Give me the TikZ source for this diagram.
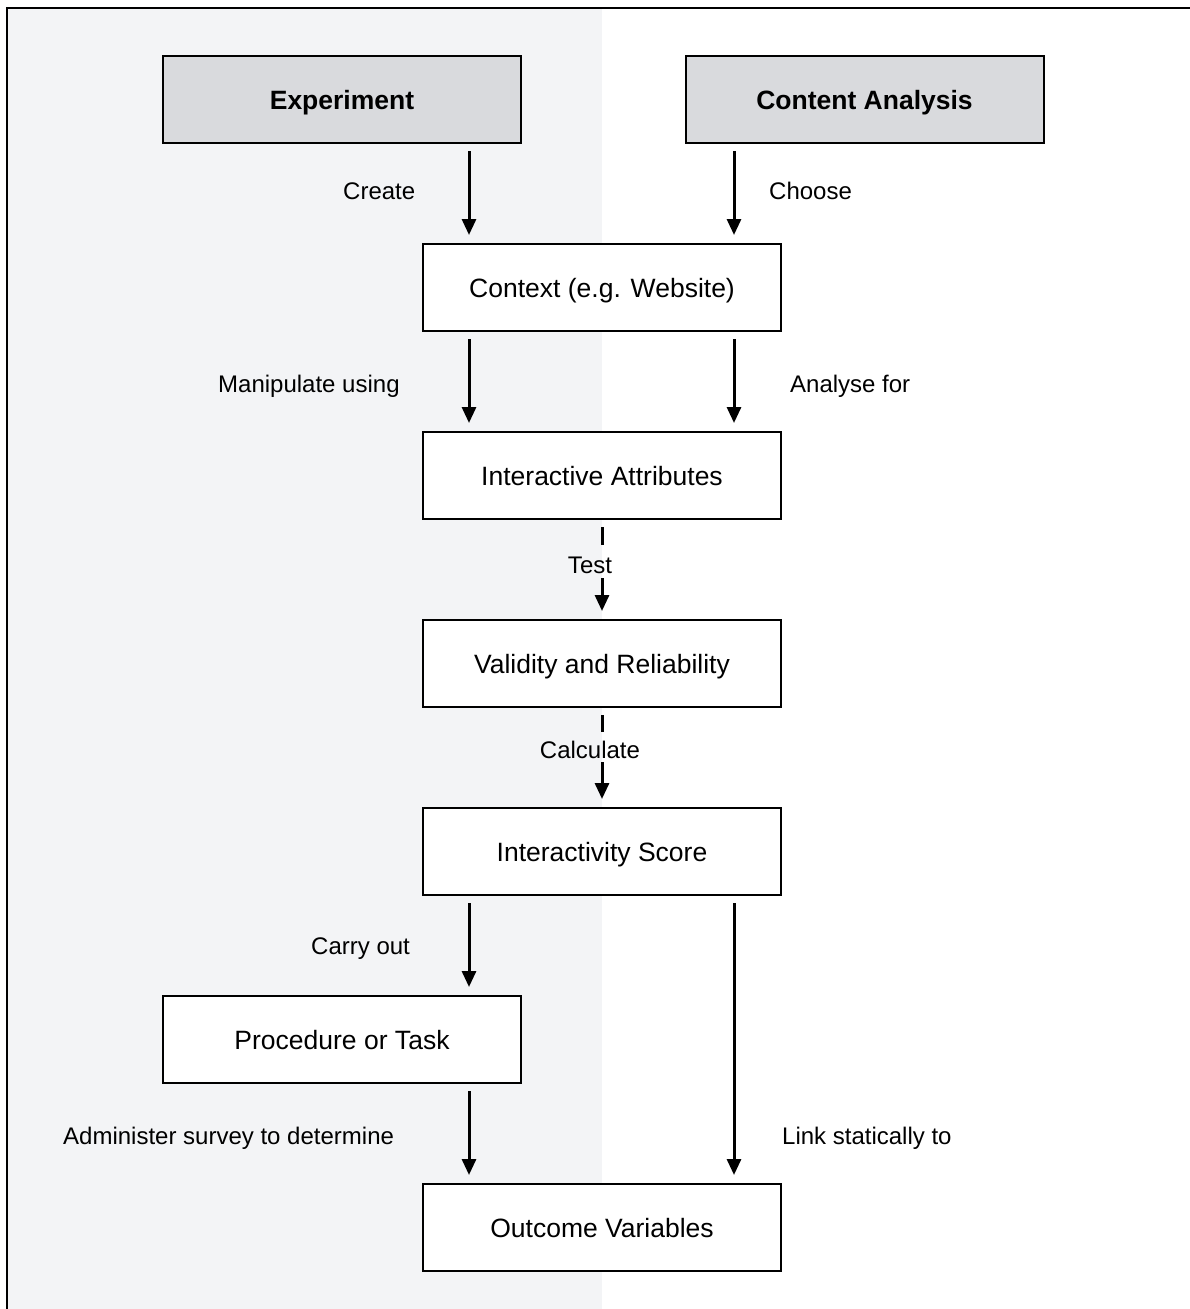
\documentclass[tikz,border=0pt]{standalone}
\usepackage{fontspec}
\setmainfont{Liberation Sans}
\usetikzlibrary{arrows.meta}
\definecolor{panelgray}{RGB}{243,244,246}
\definecolor{headgray}{RGB}{217,218,221}
\begin{document}
\begin{tikzpicture}[x=1pt,y=-1pt,
  stepbox/.style={draw=black,line width=2pt,fill=white,minimum width=358pt,minimum height=87pt,
    inner sep=0pt,font=\fontsize{26.5}{30}\selectfont,text height=19pt,text depth=0pt},
  headbox/.style={stepbox,fill=headgray,font=\fontsize{26.5}{30}\selectfont\bfseries},
  lbl/.style={inner sep=0pt,font=\fontsize{24}{28}\selectfont},
  midlbl/.style={lbl,text height=17pt,text depth=0pt,inner ysep=0pt},
  flow/.style={line width=3pt,-{Triangle[length=16pt,width=14pt]},shorten <=7pt,shorten >=8pt},
  stub/.style={line width=3pt}]
\useasboundingbox (0,0) rectangle (1190,1309);
% shaded half and frame
\fill[panelgray] (8,9) rectangle (602,1309);
\draw[line width=2.5pt] (7,1309) -- (7,8) -- (1190,8);
% connector columns
\coordinate (xl) at (469,0);
\coordinate (xr) at (734,0);
% boxes
\node[headbox] (exp) at (342,99.5) {Experiment};
\node[headbox] (ca) at (864.5,99.5) {Content Analysis};
\node[stepbox] (ctx) at (602,287.5) {Context (e.g. Website)};
\node[stepbox] (ia) at (602,475.5) {Interactive Attributes};
\node[stepbox] (vr) at (602,663.5) {Validity and Reliability};
\node[stepbox] (is) at (602,851.5) {Interactivity Score};
\node[stepbox] (pt) at (342,1039.5) {Procedure or Task};
\node[stepbox] (ov) at (602,1227.5) {Outcome Variables};
% side labels
\node[lbl,anchor=base west] (lcreate) at (343,199) {Create};
\node[lbl,anchor=base west] (lchoose) at (769,199) {Choose};
\node[lbl,anchor=base west] (lmanip) at (218,392) {Manipulate using};
\node[lbl,anchor=base west] (lanal) at (790,392) {Analyse for};
\node[lbl,anchor=base west] (lcarry) at (311,954) {Carry out};
\node[lbl,anchor=base west] (ladmin) at (63,1144) {Administer survey to determine};
\node[lbl,anchor=base west] (llink) at (782,1144) {Link statically to};
% in-line labels
\node[midlbl] (ltest) at (590,565) {Test};
\node[midlbl] (lcalc) at (590,750) {Calculate};
\coordinate (tt) at (602,545);
\coordinate (tb) at (602,578);
\coordinate (ct) at (602,732);
\coordinate (cb) at (602,762);
% connectors
\draw[flow] (exp.south -| xl) -- (ctx.north -| xl);
\draw[flow] (ca.south -| xr) -- (ctx.north -| xr);
\draw[flow] (ctx.south -| xl) -- (ia.north -| xl);
\draw[flow] (ctx.south -| xr) -- (ia.north -| xr);
\draw[stub,shorten <=7pt] (ia.south) -- (tt);
\draw[flow,shorten <=0pt] (tb) -- (vr.north);
\draw[stub,shorten <=7pt] (vr.south) -- (ct);
\draw[flow,shorten <=0pt] (cb) -- (is.north);
\draw[flow] (is.south -| xl) -- (pt.north -| xl);
\draw[flow] (is.south -| xr) -- (ov.north -| xr);
\draw[flow] (pt.south -| xl) -- (ov.north -| xl);
\end{tikzpicture}
\end{document}
